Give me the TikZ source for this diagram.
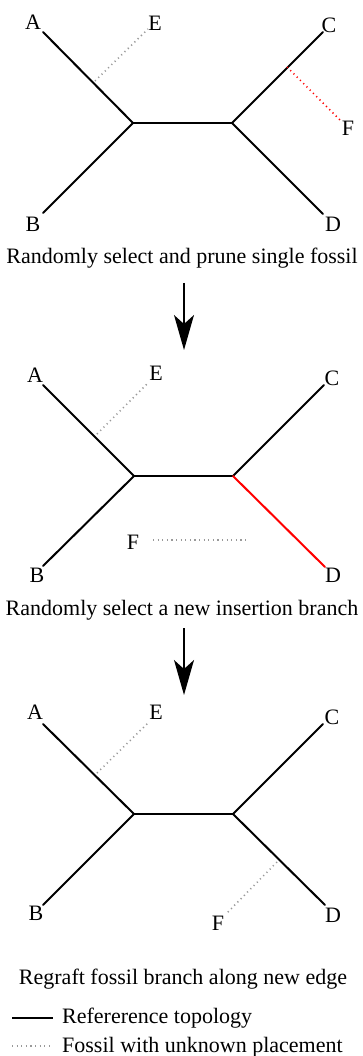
\documentclass[tikz,border=0pt]{standalone}
\usepackage{fontspec}
\setmainfont{Liberation Serif}
\usetikzlibrary{arrows.meta}

\begin{document}
\begin{tikzpicture}[x=1pt,y=-1pt]

\tikzset{branch/.style = {line width=2pt, line cap=round}}
\tikzset{fossil/.style = {line width=1.6pt, gray!80, dash pattern=on 1.2pt off 3.4pt}}
\tikzset{leaf/.style = {inner sep=0pt, font=\fontsize{22}{26}\selectfont}}
\tikzset{caption/.style = {inner sep=0pt, anchor=base, font=\fontsize{22}{26}\selectfont}}
\tikzset{flow/.style = {line width=1.6pt, -{Stealth[length=35pt,width=20pt,inset=9pt]}}}

\useasboundingbox (0,0) rectangle (363,1056);

% tree 1
\coordinate (u1) at (133,123);
\coordinate (v1) at (232,123);
\coordinate (a1) at (43,32);
\coordinate (b1) at (43,213);
\coordinate (c1) at (323,32);
\coordinate (d1) at (323,214);
\coordinate (e1) at (95,81);
\coordinate (ee1) at (148,29);
\coordinate (f1) at (287,67);
\coordinate (ff1) at (340,120);
\node[leaf] (la1) at (33,22) {A};
\node[leaf] (lb1) at (33,224) {B};
\node[leaf] (lc1) at (329,25) {C};
\node[leaf] (ld1) at (333,224) {D};
\node[leaf] (le1) at (155,23) {E};
\node[leaf] (lf1) at (348,128) {F};
\node[caption] (cap1) at (182,264) {Randomly select and prune single fossil};

%edges
\draw[branch] (u1) -- (v1);
\draw[branch] (u1) -- (a1);
\draw[branch] (u1) -- (b1);
\draw[branch] (v1) -- (c1);
\draw[branch] (v1) -- (d1);
\draw[fossil] (e1) -- (ee1);
\draw[fossil, red] (f1) -- (ff1);

% step arrow 1
\coordinate (s1) at (184,283);
\coordinate (t1) at (184,350);
\draw[flow] (s1) -- (t1);

% tree 2
\coordinate (u2) at (134,476);
\coordinate (v2) at (233,476);
\coordinate (a2) at (43,385);
\coordinate (b2) at (43,566);
\coordinate (c2) at (324,385);
\coordinate (d2) at (325,567);
\coordinate (e2) at (97,434);
\coordinate (ee2) at (149,382);
\coordinate (f2) at (153,540);
\coordinate (ff2) at (248,540);
\node[leaf] (la2) at (35,375) {A};
\node[leaf] (lb2) at (37,575) {B};
\node[leaf] (lc2) at (332,378) {C};
\node[leaf] (ld2) at (333,575) {D};
\node[leaf] (le2) at (156,373) {E};
\node[leaf] (lf2) at (133,542) {F};
\node[caption] (cap2) at (182,615) {Randomly select a new insertion branch};

%edges
\draw[branch] (u2) -- (v2);
\draw[branch] (u2) -- (a2);
\draw[branch] (u2) -- (b2);
\draw[branch] (v2) -- (c2);
\draw[branch, red] (v2) -- (d2);
\draw[fossil] (e2) -- (ee2);
\draw[fossil] (f2) -- (ff2);

% step arrow 2
\coordinate (s2) at (184,628);
\coordinate (t2) at (184,695);
\draw[flow] (s2) -- (t2);

% tree 3
\coordinate (u3) at (134,814);
\coordinate (v3) at (233,814);
\coordinate (a3) at (43,724);
\coordinate (b3) at (43,905);
\coordinate (c3) at (323,724);
\coordinate (d3) at (325,905);
\coordinate (e3) at (97,773);
\coordinate (ee3) at (149,722);
\coordinate (f3) at (277,862);
\coordinate (ff3) at (227,913);
\node[leaf] (la3) at (35,712) {A};
\node[leaf] (lb3) at (36,913) {B};
\node[leaf] (lc3) at (332,717) {C};
\node[leaf] (ld3) at (333,915) {D};
\node[leaf] (le3) at (156,712) {E};
\node[leaf] (lf3) at (218,923) {F};
\node[caption] (cap3) at (183,984) {Regraft fossil branch along new edge};

%edges
\draw[branch] (u3) -- (v3);
\draw[branch] (u3) -- (a3);
\draw[branch] (u3) -- (b3);
\draw[branch] (v3) -- (c3);
\draw[branch] (v3) -- (d3);
\draw[fossil] (e3) -- (ee3);
\draw[fossil] (f3) -- (ff3);

% legend
\node[caption, anchor=base west] (key1) at (62,1023) {Refererence topology};
\node[caption, anchor=base west] (key2) at (62,1052) {Fossil with unknown placement};
\coordinate (k1) at (12,1018);
\coordinate (k2) at (53,1018);
\coordinate (k3) at (12,1046);
\coordinate (k4) at (51,1046);
\draw[branch, line cap=butt] (k1) -- (k2);
\draw[fossil] (k3) -- (k4);

\end{tikzpicture}
\end{document}
